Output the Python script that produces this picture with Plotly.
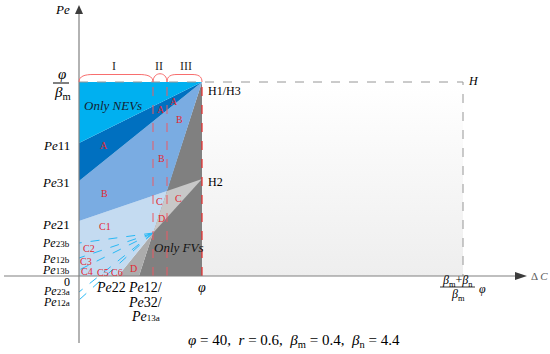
import plotly.graph_objects as go

FONT = "Times New Roman, Liberation Serif, serif"

# ---------------- schematic geometry (ΔC horizontal, Pe vertical) ----------------
PHI_X = 123          # ΔC = φ
H_X = 384            # ΔC = (βm+βn)/βm · φ
TOP_Y = 194          # Pe = φ/βm
strip_x = [74, 88]   # boundaries I|II and II|III

# region polygons (vertices in chart units)
nev_x, nev_y = [0, PHI_X, 0], [TOP_Y, TOP_Y, 133]
a_x, a_y = [0, PHI_X, 0], [133, TOP_Y, 95]
b_x, b_y = [0, PHI_X, 88, 0], [95, TOP_Y, 85, 55]
c_x, c_y = [0, 88, 74, 39, 0], [55, 85, 43, 0, 0]
d_x, d_y = [39, 74, 60], [0, 43, 0]
fv_x, fv_y = [60, PHI_X, PHI_X], [0, TOP_Y, 0]
lg_x, lg_y = [74, 88, PHI_X], [43, 85, 97]
h_x, h_y = [PHI_X, H_X, H_X, PHI_X], [TOP_Y, TOP_Y, 0, 0]

# convergence point of the dashed boundaries and their ends on the Pe axis
conv_pt = (74, 43)
dash_end_y = [33, 18, 6, -16, -24]

# tick labels
SM = "<span style='font-size:9px'>"
y_tick_text = ["<i>Pe</i>11", "<i>Pe</i>31", "<i>Pe</i>21",
               f"<i>Pe</i>{SM}23b</span>",
               f"<i>Pe</i>{SM}12b</span>",
               f"<i>Pe</i>{SM}13b</span>",
               "0",
               f"<i>Pe</i>{SM}23a</span>",
               f"<i>Pe</i>{SM}12a</span>"]
y_tick_pos = [131, 94, 52, 33, 17, 6, -6, -15, -26]
y_tick_size = [13, 13, 13, 12, 12, 12, 12, 12, 12]
x_tick_text = ["<i>Pe</i>22", "<i>Pe</i>12/", "<i>Pe</i>32/",
               f"<i>Pe</i>{SM}13a</span>", "<i>φ</i>"]
x_tick_pos = [(32, -11), (66, -11), (66, -26), (66, -40), (123, -11)]

# region letters
region_text = ["A", "B", "A", "A", "B", "B", "C", "C", "D",
               "C1", "C2", "C3", "C4", "C5", "C6", "D"]
region_pos = [(25, 131), (25, 83), (82, 167), (95, 175), (100, 157), (82, 118),
              (80, 75), (99, 78), (82, 58),
              (26, 50), (10, 28), (7, 15), (8, 5), (24, 4), (38, 4), (54, 8)]

numerals = ["I", "II", "III"]
numeral_x = [35, 80, 107]

fig = go.Figure()

def poly(xs, ys, color):
    fig.add_trace(go.Scatter(x=xs + [xs[0]], y=ys + [ys[0]], mode="lines",
                             fill="toself", fillcolor=color,
                             line=dict(width=0, color=color),
                             hoverinfo="skip", showlegend=False))

def line(xs, ys, color, width=1, dash="solid"):
    fig.add_trace(go.Scatter(x=xs, y=ys, mode="lines",
                             line=dict(color=color, width=width, dash=dash),
                             hoverinfo="skip", showlegend=False))

# H rectangle with soft gradient
fig.add_trace(go.Scatter(x=h_x + [h_x[0]], y=h_y + [h_y[0]], mode="lines",
                         fill="toself", line=dict(width=0),
                         fillgradient=dict(type="vertical",
                                           colorscale=[[0, "rgb(238,238,238)"],
                                                       [1, "rgb(255,255,255)"]]),
                         hoverinfo="skip", showlegend=False))

poly(fv_x, fv_y, "rgb(128,128,128)")
poly(d_x, d_y, "rgb(172,172,172)")
poly(c_x, c_y, "rgb(196,219,241)")
poly(b_x, b_y, "rgb(122,172,226)")
poly(a_x, a_y, "rgb(0,112,192)")
poly(nev_x, nev_y, "rgb(0,176,240)")
poly(lg_x, lg_y, "rgb(200,200,200)")

# dashed cyan boundaries
for ye in dash_end_y:
    line([conv_pt[0], 0], [conv_pt[1], ye], "rgb(40,185,245)", 1, "dash")

# strip boundaries
for sx in strip_x:
    line([sx, sx], [0, TOP_Y], "rgb(235,90,100)", 1, "dash")
line([PHI_X, PHI_X], [0, TOP_Y], "rgb(230,40,40)", 1.2, "dash")

# H rectangle border
line([0, H_X, H_X], [TOP_Y, TOP_Y, 0], "rgb(150,150,150)", 1, "dash")

# axes
AX = "rgb(128,128,128)"
line([0, 0], [-67, 262], AX, 1.2)
line([-75, 436], [0, 0], AX, 1.2)
poly([-4, 4, 0], [262, 262, 271], "rgb(60,60,60)")
poly([436, 436, 448], [4, -4, 0], "rgb(60,60,60)")

# braces
PINK = "rgb(248,110,110)"
shapes = [
    dict(type="path", path=f"M 0,{TOP_Y} C 0,200 6,201.5 14,201.5 L 60,201.5 C 68,201.5 74,200 74,{TOP_Y}",
         line=dict(color=PINK, width=1)),
    dict(type="path", path=f"M 74,{TOP_Y} C 74,205 88,205 88,{TOP_Y}",
         line=dict(color=PINK, width=1)),
    dict(type="path", path=f"M 88,{TOP_Y} C 88,200 92,201.5 98,201.5 L 113,201.5 C 119,201.5 123,200 123,{TOP_Y}",
         line=dict(color=PINK, width=1)),
    # fraction bars
    dict(type="line", x0=-26, x1=-10, y0=193, y1=193, line=dict(color="black", width=1)),
    dict(type="line", x0=361, x1=396, y0=-11, y1=-11, line=dict(color="black", width=0.8)),
]
for s in shapes:
    s.update(xref="x", yref="y")

ann = []
def txt(x, y, t, size=13, color="black", xa="center", ya="middle"):
    ann.append(dict(x=x, y=y, text=t, showarrow=False, xref="x", yref="y",
                    xanchor=xa, yanchor=ya,
                    font=dict(family=FONT, size=size, color=color)))

for t, yv, fs in zip(y_tick_text, y_tick_pos, y_tick_size):
    txt(-7, yv, t, fs, xa="right")
for t, (xv, yv) in zip(x_tick_text, x_tick_pos):
    txt(xv, yv, t, 14)
for t, (xv, yv) in zip(region_text, region_pos):
    txt(xv, yv, t, 10, "rgb(225,40,50)")
for t, xv in zip(numerals, numeral_x):
    txt(xv, 210, t, 12, "rgb(40,40,40)")

txt(-17, 202, "<i>φ</i>", 15)
txt(-17, 183, "<i>β</i><sub>m</sub>", 15)
txt(378, -5, "<i>β</i><sub>m</sub>+<i>β</i><sub>n</sub>", 12)
txt(379, -19, "<i>β</i><sub>m</sub>", 12)
txt(403, -13, "<i>φ</i>", 12)
txt(-17, 267, "<i>Pe</i>", 13)
txt(460, 0, "Δ <i>C</i>", 11, "rgb(90,90,90)")
txt(394, 195, "<i>H</i>", 12)
txt(127, 185, "H1/H3", 12, xa="left")
txt(127, 94, "H2", 12, xa="left")
txt(34, 171, "<i>Only NEVs</i>", 13, "rgb(20,30,50)")
txt(99, 29, "<i>Only FVs</i>", 13, "rgb(20,20,20)")
txt(215, -65, "<i>φ</i> = 40,  <i>r</i> = 0.6,  <i>β</i><sub>m</sub> = 0.4,  <i>β</i><sub>n</sub> = 4.4", 15)

fig.update_layout(
    width=550, height=354, margin=dict(l=0, r=0, t=0, b=0),
    paper_bgcolor="white", plot_bgcolor="white",
    xaxis=dict(range=[-79, 471], visible=False, fixedrange=True),
    yaxis=dict(range=[-78, 276], visible=False, fixedrange=True),
    shapes=shapes, annotations=ann, showlegend=False,
)
# remove the default 8 px page margin so the 550x354 figure fills the window
fig.write_html("out.html", config={"displayModeBar": False},
               post_script="document.body.style.margin='0';")
